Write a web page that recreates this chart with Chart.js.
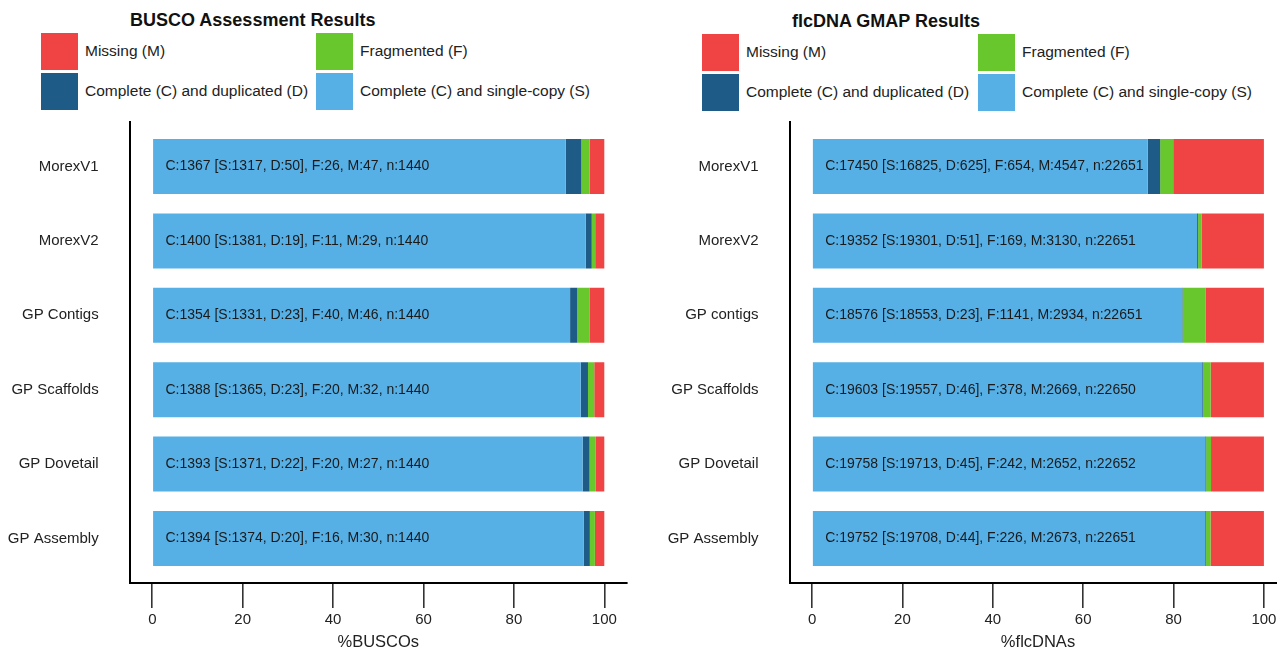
<!DOCTYPE html>
<html>
<head>
<meta charset="utf-8">
<title>BUSCO and flcDNA GMAP results</title>
<script src="https://cdn.jsdelivr.net/npm/chart.js@4/dist/chart.umd.min.js"></script>
<style>
  html, body { margin: 0; padding: 0; background: #fff; }
  body { width: 1277px; height: 652px; overflow: hidden; position: relative;
         font-family: "Liberation Sans", Arial, sans-serif; color: #222; }
  canvas { position: absolute; top: 0; }
  .title { position: absolute; font-weight: bold; font-size: 18px; line-height: 20px; color: #111; white-space: nowrap; }
  .key { position: absolute; width: 37px; height: 37px; }
  .key-text { position: absolute; font-size: 15.5px; line-height: 18px; white-space: nowrap; color: #222; }
</style>
</head>
<body>
<div class="title" id="title1" style="left:130px; top:10px;"></div>
<div class="title" id="title2" style="left:792px; top:11px;"></div>
<div id="legend1"></div>
<div id="legend2"></div>
<canvas id="busco" width="640" height="652" style="left:0; width:640px; height:652px;"></canvas>
<canvas id="flc" width="660" height="652" style="left:640px; width:660px; height:652px;"></canvas>
<script>
// ---- BUSCO assessment (counts out of n) ----
const buscoCategories = ['MorexV1', 'MorexV2', 'GP Contigs', 'GP Scaffolds', 'GP Dovetail', 'GP Assembly'];
const buscoSingle     = [1317, 1381, 1331, 1365, 1371, 1374];
const buscoDuplicated = [50, 19, 23, 23, 22, 20];
const buscoFragmented = [26, 11, 40, 20, 20, 16];
const buscoMissing    = [47, 29, 46, 32, 27, 30];
const buscoTotal      = [1440, 1440, 1440, 1440, 1440, 1440];

// ---- flcDNA GMAP alignment (counts out of n) ----
const flcCategories = ['MorexV1', 'MorexV2', 'GP contigs', 'GP Scaffolds', 'GP Dovetail', 'GP Assembly'];
const flcSingle     = [16825, 19301, 18553, 19557, 19713, 19708];
const flcDuplicated = [625, 51, 23, 46, 45, 44];
const flcFragmented = [654, 169, 1141, 378, 242, 226];
const flcMissing    = [4547, 3130, 2934, 2669, 2652, 2673];
const flcTotal      = [22651, 22651, 22651, 22650, 22652, 22651];

const percentTicks = [0, 20, 40, 60, 80, 100];

const seriesNames = {
  S: 'Complete (C) and single-copy (S)',
  D: 'Complete (C) and duplicated (D)',
  F: 'Fragmented (F)',
  M: 'Missing (M)'
};
const seriesColors = { S: '#56B0E6', D: '#1E5B86', F: '#68C72C', M: '#EF4443' };
// legend reads row by row: M, F / D, S
const legendOrder = ['M', 'F', 'D', 'S'];

Chart.defaults.font.family = '"Liberation Sans", Arial, sans-serif';
Chart.defaults.color = '#222';

// summary string written across each bar
const barText = {
  id: 'barText',
  afterDatasetsDraw(chart, args, opts) {
    const { ctx, scales: { x, y } } = chart;
    ctx.save();
    ctx.font = '14px "Liberation Sans", Arial, sans-serif';
    ctx.fillStyle = '#1a1a1a';
    ctx.textAlign = 'left';
    ctx.textBaseline = 'middle';
    opts.labels.forEach((t, i) => ctx.fillText(t, x.getPixelForValue(2.9), y.getPixelForValue(i)));
    ctx.restore();
  }
};

function pct(counts, totals) {
  return counts.map((c, i) => ({ y: i, x: c / totals[i] * 100 }));
}

function summary(S, D, F, M, n) {
  return S.map((s, i) => `C:${s + D[i]} [S:${s}, D:${D[i]}], F:${F[i]}, M:${M[i]}, n:${n[i]}`);
}

function makeChart(id, cats, S, D, F, M, n, axisTitle, yWidth, rightPad) {
  const counts = { S, D, F, M };
  const datasets = ['S', 'D', 'F', 'M'].map(k => ({
    key: k,
    label: seriesNames[k],
    data: pct(counts[k], n),
    backgroundColor: seriesColors[k],
    borderWidth: 0,
    categoryPercentage: 1,
    barPercentage: 0.74
  }));
  return new Chart(document.getElementById(id), {
    type: 'bar',
    data: { datasets },
    options: {
      indexAxis: 'y',
      responsive: false,
      animation: false,
      layout: { padding: { top: 122, right: rightPad, bottom: 0, left: 0 } },
      plugins: {
        legend: { display: false },
        tooltip: { enabled: false },
        barText: { labels: summary(S, D, F, M, n) }
      },
      scales: {
        x: {
          type: 'linear',
          stacked: true,
          offset: false,
          position: 'bottom',
          min: -5,
          max: 105,
          afterBuildTicks: s => { s.ticks = percentTicks.map(v => ({ value: v })); },
          afterFit: s => { s.height = 69; },
          border: { display: true, color: '#000', width: 2 },
          grid: { offset: false, drawOnChartArea: false, drawTicks: true, tickLength: 25, color: '#333', lineWidth: 1.6 },
          ticks: { font: { size: 15 }, color: '#222', padding: 3, autoSkip: false, maxRotation: 0 },
          title: { display: true, text: axisTitle, font: { size: 16.5, lineHeight: 1 }, color: '#222',
                   padding: { top: 0, bottom: 1 } }
        },
        y: {
          type: 'linear',
          stacked: true,
          offset: false,
          reverse: true,
          min: -0.6,
          max: 5.6,
          afterBuildTicks: s => { s.ticks = cats.map((c, i) => ({ value: i })); },
          afterFit: s => { s.width = yWidth; },
          border: { display: true, color: '#000', width: 2 },
          grid: { offset: false, drawOnChartArea: false, drawTicks: false },
          ticks: { font: { size: 15 }, color: '#222', padding: 31, autoSkip: false,
                   callback: v => cats[v] }
        }
      }
    },
    plugins: [barText]
  });
}

function buildLegend(chart, holderId, titleId, titleText, x0, x1, top) {
  document.getElementById(titleId).textContent = titleText;
  const holder = document.getElementById(holderId);
  const byKey = {};
  chart.data.datasets.forEach(ds => { byKey[ds.key] = ds; });
  legendOrder.forEach((k, idx) => {
    const ds = byKey[k];
    const col = idx % 2, row = Math.floor(idx / 2);
    const left = col === 0 ? x0 : x1;
    const y = top + row * 40;
    const sw = document.createElement('div');
    sw.className = 'key';
    sw.style.left = left + 'px';
    sw.style.top = y + 'px';
    sw.style.background = ds.backgroundColor;
    holder.appendChild(sw);
    const tx = document.createElement('div');
    tx.className = 'key-text';
    tx.style.left = (left + 44) + 'px';
    tx.style.top = (y + 9) + 'px';
    tx.textContent = ds.label;
    holder.appendChild(tx);
  });
}

const buscoChart = makeChart('busco', buscoCategories, buscoSingle, buscoDuplicated, buscoFragmented,
                             buscoMissing, buscoTotal, '%BUSCOs', 129.7, 13.1);
const flcChart = makeChart('flc', flcCategories, flcSingle, flcDuplicated, flcFragmented,
                           flcMissing, flcTotal, '%flcDNAs', 149.5, 13.5);

buildLegend(buscoChart, 'legend1', 'title1', 'BUSCO Assessment Results', 41, 316, 33);
buildLegend(flcChart, 'legend2', 'title2', 'flcDNA GMAP Results', 702, 978, 34);
</script>
</body>
</html>
